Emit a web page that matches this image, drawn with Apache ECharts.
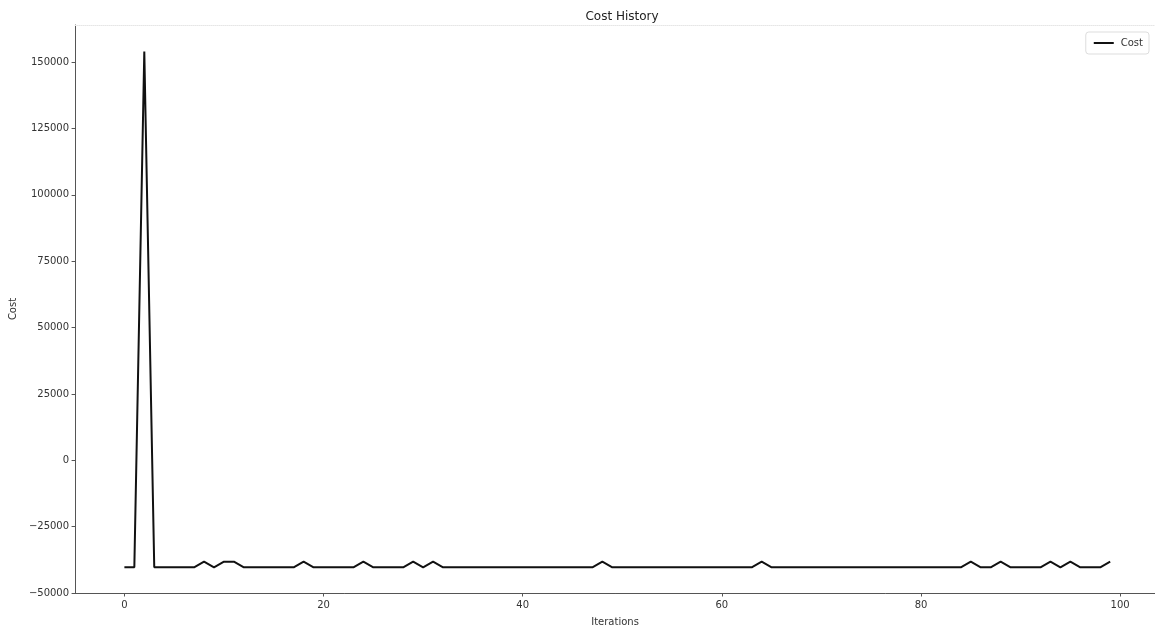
<!DOCTYPE html>
<html>
<head>
<meta charset="utf-8">
<script src="https://cdn.jsdelivr.net/npm/echarts@6/dist/echarts.min.js"></script>
<style>html,body{margin:0;padding:0;background:#fff}#c{width:1155px;height:632px}</style>
</head>
<body>
<div id="c"></div>
<script>
const iterations = Array.from({length: 100}, (_, i) => i);
const cost = [
  -40300, -40300, 154000, -40300, -40300, -40300, -40300, -40300, -38200, -40300,
  -38200, -38200, -40300, -40300, -40300, -40300, -40300, -40300, -38200, -40300,
  -40300, -40300, -40300, -40300, -38200, -40300, -40300, -40300, -40300, -38200,
  -40300, -38200, -40300, -40300, -40300, -40300, -40300, -40300, -40300, -40300,
  -40300, -40300, -40300, -40300, -40300, -40300, -40300, -40300, -38200, -40300,
  -40300, -40300, -40300, -40300, -40300, -40300, -40300, -40300, -40300, -40300,
  -40300, -40300, -40300, -40300, -38200, -40300, -40300, -40300, -40300, -40300,
  -40300, -40300, -40300, -40300, -40300, -40300, -40300, -40300, -40300, -40300,
  -40300, -40300, -40300, -40300, -40300, -38200, -40300, -40300, -38200, -40300,
  -40300, -40300, -40300, -38200, -40300, -38200, -40300, -40300, -40300, -38200
];
const xTicks = [0, 20, 40, 60, 80, 100];
const yTicks = [-50000, -25000, 0, 25000, 50000, 75000, 100000, 125000, 150000];

const font = 'DejaVu Sans';
const chart = echarts.init(document.getElementById('c'), null, {renderer: 'canvas'});
chart.setOption({
  animation: false,
  backgroundColor: '#fff',
  title: {
    text: 'Cost History',
    left: 617, top: 6,
    textAlign: 'center',
    textStyle: {fontFamily: font, fontSize: 12, fontWeight: 'normal', color: '#222'}
  },
  legend: {
    right: 6, top: 32,
    data: ['Cost'],
    icon: 'path://M0,0 L10,0 L10,1 L0,1 Z',
    itemWidth: 24, itemHeight: 2,
    itemGap: 4,
    padding: [6, 6, 6, 8],
    borderColor: '#ddd', borderWidth: 1, borderRadius: 3,
    textStyle: {fontFamily: font, fontSize: 10, color: '#333'}
  },
  grid: {left: 75, right: 0, top: 25, bottom: 34, containLabel: false},
  xAxis: [{
    type: 'value',
    min: -4.95, max: 103.5,
    name: 'Iterations',
    nameLocation: 'middle',
    nameGap: 24,
    nameTextStyle: {fontFamily: font, fontSize: 10, color: '#333'},
    axisLine: {show: true, onZero: false, lineStyle: {color: '#555', width: 1}},
    axisTick: {show: true, length: 3.5, customValues: xTicks, lineStyle: {color: '#555'}},
    axisLabel: {customValues: xTicks, fontFamily: font, fontSize: 10, color: '#333', margin: 7},
    splitLine: {show: false}
  }, {
    type: 'value',
    position: 'top',
    min: -4.95, max: 103.5,
    axisLine: {show: true, onZero: false, lineStyle: {color: '#e6e6e6', width: 1, type: 'dotted'}},
    axisTick: {show: false},
    axisLabel: {show: false},
    splitLine: {show: false}
  }],
  yAxis: {
    type: 'value',
    min: -50000, max: 164000,
    name: 'Cost',
    nameLocation: 'middle',
    nameGap: 57,
    nameRotate: 90,
    nameTextStyle: {fontFamily: font, fontSize: 10, color: '#333'},
    axisLine: {show: true, onZero: false, lineStyle: {color: '#555', width: 1}},
    axisTick: {show: true, length: 3.5, customValues: yTicks, lineStyle: {color: '#555'}},
    axisLabel: {customValues: yTicks, fontFamily: font, fontSize: 10, color: '#333', margin: 6,
      formatter: v => (v < 0 ? '\u2212' + Math.abs(v) : String(v))},
    splitLine: {show: false}
  },
  series: [{
    name: 'Cost',
    type: 'line',
    xAxisIndex: 0,
    data: iterations.map((x, i) => [x, cost[i]]),
    showSymbol: false,
    symbol: 'none',
    lineStyle: {color: '#111', width: 2},
    itemStyle: {color: '#111'}
  }]
});
</script>
</body>
</html>
